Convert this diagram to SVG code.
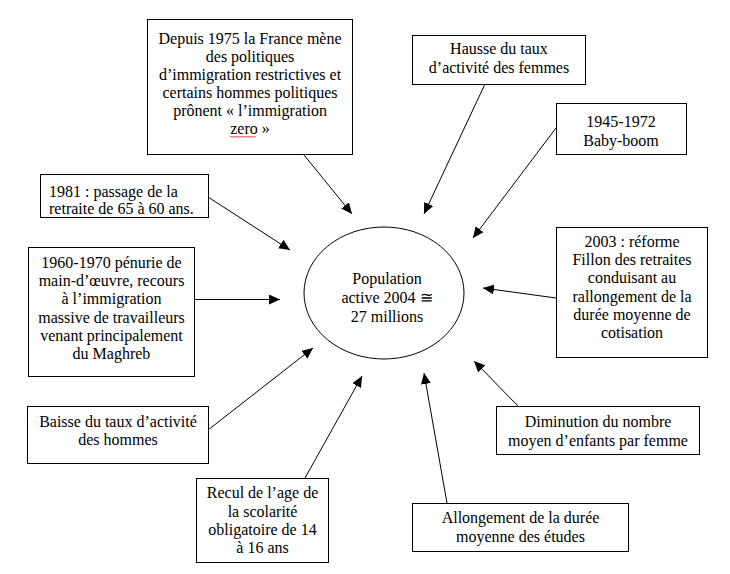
<svg xmlns="http://www.w3.org/2000/svg" width="730" height="574" viewBox="0 0 730 574">
<style>
.box{fill:#fff;stroke:#000;stroke-width:1}
.t{font-family:"Liberation Serif","Times New Roman",serif;font-size:16px;fill:#000;text-anchor:middle}
.tl{text-anchor:start}
.c{stroke:#000;stroke-width:1;fill:none;marker-end:url(#ah)}
</style>
<defs>
<marker id="ah" markerUnits="userSpaceOnUse" markerWidth="12" markerHeight="10" refX="11" refY="5" orient="auto">
<path d="M0,0 L11,5 L0,10 z" fill="#000"/>
</marker>
</defs>
<rect width="730" height="574" fill="#fff"/>
<g id="connectors">
<line class="c" x1="304" y1="155" x2="352" y2="214"/>
<line class="c" x1="485" y1="84" x2="424" y2="214"/>
<line class="c" x1="556" y1="128" x2="473" y2="238"/>
<line class="c" x1="208" y1="197" x2="290" y2="250"/>
<line class="c" x1="194" y1="299.5" x2="280" y2="299.5"/>
<line class="c" x1="556" y1="298" x2="483" y2="288"/>
<line class="c" x1="208" y1="430" x2="313" y2="348"/>
<line class="c" x1="305" y1="478" x2="362" y2="376"/>
<line class="c" x1="447" y1="503" x2="424" y2="373"/>
<line class="c" x1="518" y1="406" x2="474" y2="361"/>
</g>
<g id="n-depuis">
<rect class="box" x="147.5" y="19.5" width="205" height="135"/>
<text class="t" x="250" y="44">Depuis 1975 la France mène</text>
<text class="t" x="250" y="62">des politiques</text>
<text class="t" x="250" y="80">d’immigration restrictives et</text>
<text class="t" x="250" y="98">certains hommes politiques</text>
<text class="t" x="250" y="116">prônent « l’immigration</text>
<text class="t" x="250" y="134">zero »</text>
<path d="M230,137.5 l1.5,-1.5 l1.5,1.5 l1.5,-1.5 l1.5,1.5 l1.5,-1.5 l1.5,1.5 l1.5,-1.5 l1.5,1.5 l1.5,-1.5 l1.5,1.5 l1.5,-1.5 l1.5,1.5 l1.5,-1.5 l1.5,1.5 l1.5,-1.5 l1.5,1.5 l1.5,-1.5" fill="none" stroke="#e00000" stroke-width="0.8"/>
</g>
<g id="n-hausse">
<rect class="box" x="412.5" y="35.5" width="173" height="49"/>
<text class="t" x="499" y="54">Hausse du taux</text>
<text class="t" x="499" y="73">d’activité des femmes</text>
</g>
<g id="n-babyboom">
<rect class="box" x="556.5" y="103.5" width="130" height="51"/>
<text class="t" x="621" y="127">1945-1972</text>
<text class="t" x="621" y="146">Baby-boom</text>
</g>
<g id="n-1981">
<rect class="box" x="40.5" y="174.5" width="168" height="43"/>
<text class="t tl" x="49" y="197">1981 : passage de la</text>
<text class="t tl" x="49" y="214">retraite de 65 à 60 ans.</text>
</g>
<g id="n-1960">
<rect class="box" x="28.5" y="247.5" width="166" height="129"/>
<text class="t" x="111.5" y="268">1960-1970 pénurie de</text>
<text class="t" x="111.5" y="286">main-d’œuvre, recours</text>
<text class="t" x="111.5" y="304">à l’immigration</text>
<text class="t" x="111.5" y="323">massive de travailleurs</text>
<text class="t" x="111.5" y="341">venant principalement</text>
<text class="t" x="111.5" y="359">du Maghreb</text>
</g>
<g id="n-population">
<ellipse class="box" cx="384" cy="293" rx="80" ry="66"/>
<text class="t" x="387" y="284">Population</text>
<text class="t" x="387" y="303">active 2004 ≅</text>
<text class="t" x="387" y="322">27 millions</text>
</g>
<g id="n-2003">
<rect class="box" x="556.5" y="227.5" width="151" height="130"/>
<text class="t" x="632" y="247">2003 : réforme</text>
<text class="t" x="632" y="265">Fillon des retraites</text>
<text class="t" x="632" y="283">conduisant au</text>
<text class="t" x="632" y="302">rallongement de la</text>
<text class="t" x="632" y="320">durée moyenne de</text>
<text class="t" x="632" y="338">cotisation</text>
</g>
<g id="n-baisse">
<rect class="box" x="27.5" y="406.5" width="181" height="57"/>
<text class="t" x="118" y="427">Baisse du taux d’activité</text>
<text class="t" x="118" y="445">des hommes</text>
</g>
<g id="n-recul">
<rect class="box" x="196.5" y="478.5" width="132" height="84"/>
<text class="t" x="262.5" y="498">Recul de l’age de</text>
<text class="t" x="262.5" y="517">la scolarité</text>
<text class="t" x="262.5" y="535">obligatoire de 14</text>
<text class="t" x="262.5" y="553">à 16 ans</text>
</g>
<g id="n-diminution">
<rect class="box" x="496.5" y="406.5" width="203" height="48"/>
<text class="t" x="598" y="427">Diminution du nombre</text>
<text class="t" x="598" y="446">moyen d’enfants par femme</text>
</g>
<g id="n-allongement">
<rect class="box" x="412.5" y="503.5" width="216" height="48"/>
<text class="t" x="520.5" y="523">Allongement de la durée</text>
<text class="t" x="520.5" y="542">moyenne des études</text>
</g>
</svg>
